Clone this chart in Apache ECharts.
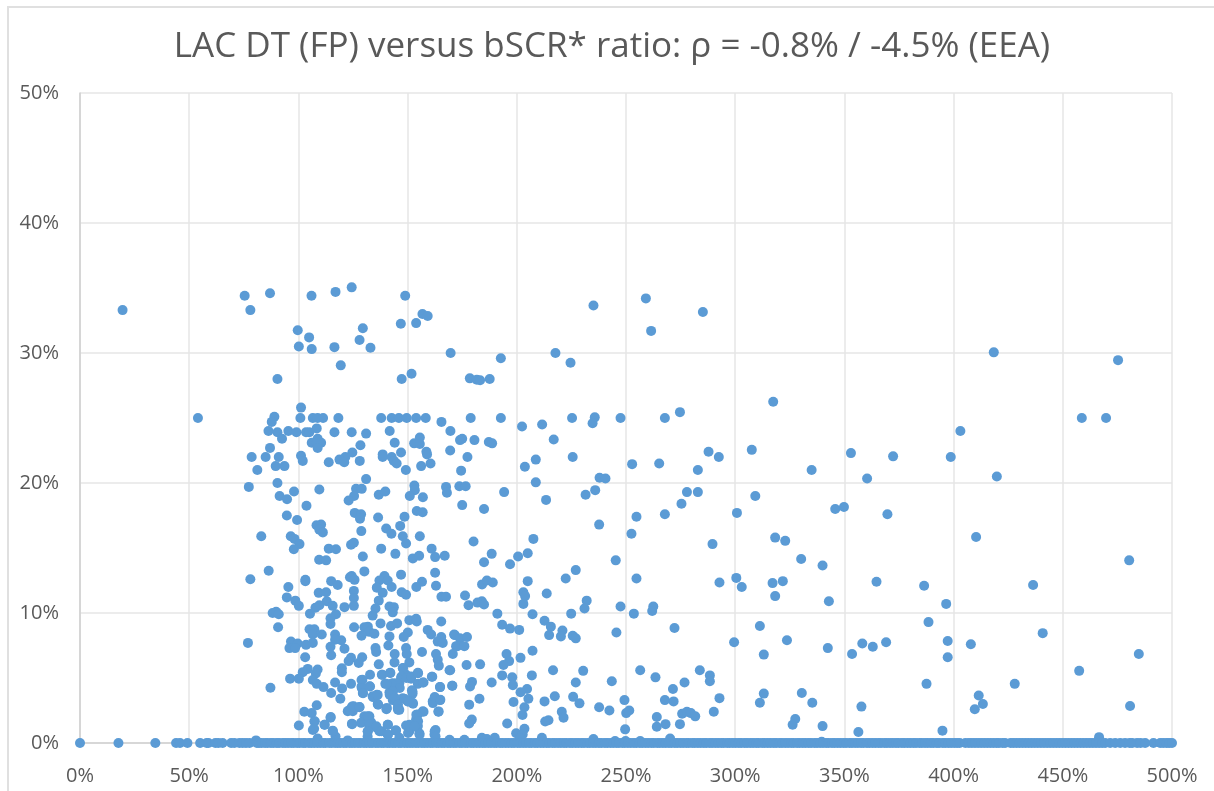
<!DOCTYPE html>
<html>
<head>
<meta charset="utf-8">
<title>LAC DT (FP) versus bSCR* ratio</title>
<script src="https://cdn.jsdelivr.net/npm/echarts@6/dist/echarts.min.js"></script>
<style>
html, body { margin: 0; padding: 0; background: #fff; overflow: hidden; }
#frame { position: absolute; left: 7px; top: 6px; width: 1300px; height: 900px; border: 2px solid #e0e0e0; }
#chart { position: absolute; left: 0; top: 0; width: 1214px; height: 791px; }
</style>
</head>
<body>
<div id="frame"></div>
<div id="chart"></div>
<script>
// all values in percent, [bSCR* ratio, LAC DT]
const xTicks = [0, 50, 100, 150, 200, 250, 300, 350, 400, 450, 500];
const yTicks = [0, 10, 20, 30, 40, 50];

const pointsTop = [
  [19.5,33.3],[75.4,34.4],[87,34.6],[78,33.3],[106,34.4],[117,34.7],[124.4,35.05],[148.9,34.4],[156.8,33],[159.2,32.85],
  [146.9,32.25],[153.9,32.3],[99.7,31.75],[104.9,31.2],[129.5,31.9],[128,31],[100.2,30.5],[106.1,30.3],[116.5,30.45],[133,30.4],
  [169.7,30],[119.4,29.05],[90.4,28],[151.8,28.4],[147.3,28],[192.7,29.6],[217.7,30],[224.6,29.25],[235.1,33.65],[259.1,34.2],
  [261.5,31.7],[285.2,33.15],[178.5,28.05],[181.7,27.95],[183.2,27.9],[187.6,28],[317.4,26.25],[418.4,30.05],[475.3,29.45]
];

const points20to25 = [
  [101.2,25.8],[54,25],[100.9,25],[89,25.1],[87.8,24.7],[106.6,25],[108.8,25],[111.3,25],[118.3,25],[137.9,25],
  [142.7,25],[146,25],[149.6,25],[153.9,25],[158.3,25],[165.5,24.7],[169.6,24],[86.3,24],[90.4,23.9],[95.4,24],
  [99.1,23.9],[103.5,23.9],[105,23.9],[108.4,24.2],[116.5,23.9],[124.4,23.9],[131,23.8],[141.8,24],[92.5,23.4],[144.1,23.1],
  [155.6,23.5],[153,23.05],[155.6,23],[108.8,23.4],[106.1,23.1],[108.4,23.1],[110.4,23.1],[108.8,22.7],[128.4,22.9],[174,23.3],
  [87,22.7],[169.5,22.5],[101.2,22.1],[102,21.7],[78.6,22],[85,22],[91,22],[124.7,22.35],[121.5,22],[118.8,21.8],
  [121,21.6],[113.9,21.6],[128.1,21.7],[138.6,22.2],[138.6,22],[147,22.35],[142.7,22],[143.7,21.7],[145,21.5],[158.6,22.4],
  [158.9,22.2],[160.5,21.5],[156.2,21.3],[149.2,21],[81.2,21],[89.6,21.3],[93.6,21.3],[174.5,20.95],[131,20.3],[90.4,20],
  [178.9,25],[192.7,25],[225.3,25],[235.7,25.05],[234.7,24.6],[247.5,25],[267.8,25],[274.7,25.45],[202.4,24.35],[211.6,24.5],
  [175,23.4],[180.6,23.3],[187.2,23.15],[188.7,23.05],[216.9,23.35],[177.4,22],[208.7,21.8],[203.7,21.25],[225.6,22],[252.8,21.45],
  [265.2,21.5],[287.8,22.4],[292.5,22],[307.6,22.55],[282.9,21],[335,21],[208.7,20.05],[237.9,20.4],[240.6,20.35],[458.7,25],
  [469.8,25],[403.1,24],[353,22.3],[372.3,22.05],[398.7,22],[360.4,20.35],[419.8,20.5]
];

const points15to20 = [
  [77.3,19.7],[153.1,19.8],[153.3,19.45],[167.6,19.7],[168,19.25],[151,19],[157,18.9],[98,19.35],[109.6,19.5],[91.4,19],
  [94.8,18.75],[103.7,18.25],[126.4,19.55],[129,19.55],[125.5,19],[123,18.65],[136.8,19.1],[139.8,19.35],[173.7,19.75],[176.6,19.75],
  [194.2,19.3],[213.4,18.7],[231.5,19.1],[235.9,19.45],[277.9,19.3],[282.9,19.3],[309.2,19],[275.4,18.4],[175,18.3],[185,18],
  [300.8,17.7],[267.8,17.6],[254.8,17.4],[345.8,18],[237.7,16.8],[94.7,17.5],[99.4,17.15],[108.3,16.75],[110.4,16.8],[109.6,16.4],
  [111.2,16.2],[125.8,17.7],[128.7,17.6],[128.2,17.25],[136.5,17.35],[140.2,16.5],[142.6,16.1],[146.6,16.7],[148.6,17.4],[154.2,17.85],
  [156.9,17.75],[147.8,15.9],[149.3,15.35],[155.6,15.9],[128.8,16.3],[83,15.9],[96.5,15.9],[98.2,15.7],[100.5,15.3],[124.1,15.25],
  [125.4,15.4],[252.5,16.1],[180.2,15.5],[207.6,15.7],[289.6,15.3],[318.3,15.8],[322.9,15.55],[349.8,18.15],[369.7,17.6],[410.3,15.85]
];

const points10to15 = [
  [97.9,14.9],[113.9,14.95],[117.2,14.9],[137.9,14.95],[129.5,14.35],[109.5,14.1],[112.7,14.05],[144.4,14.55],[152.4,14.2],[155.3,14.4],
  [161,14.95],[162.6,14.3],[167,14.4],[162.6,13.1],[86.4,13.25],[78,12.6],[130.2,13.2],[103.2,12.55],[103.2,12.45],[124.4,12.85],
  [123.6,12.75],[125.7,12.55],[115,12.45],[118,12.15],[139.4,12.85],[137.1,12.5],[140.9,12.5],[147,12.95],[156.6,12.4],[163,12.1],
  [154,12],[135.9,11.95],[142.7,12],[138.6,11.55],[125.4,11.7],[95.4,12],[109.3,11.55],[112.7,11.6],[147.3,11.6],[149.3,11.4],
  [94.7,11.2],[125.4,11.15],[136.8,10.95],[165.5,11.25],[167.6,11.25],[98.6,10.95],[100.2,10.55],[113,10.9],[115.7,10.55],[109.6,10.6],
  [107.8,10.4],[121.1,10.45],[125.4,10.55],[135.3,10.35],[141.7,10.5],[143.7,10.45],[143.2,10.05],[188.5,14.55],[185,13.9],[196.9,13.75],
  [200.6,14.35],[205,14.6],[245.3,14.05],[227,13.3],[222.4,12.65],[254.8,12.65],[205,12.45],[184.1,12.2],[186.3,12.5],[189,12.35],
  [292.8,12.35],[300.5,12.7],[303,12],[330.2,14.15],[340,13.65],[317.1,12.3],[321.8,12.45],[318.3,11.3],[342.9,10.9],[203,11.6],
  [203.8,11.3],[203,10.7],[213.7,11.5],[176.3,11.35],[177.9,10.6],[182,10.8],[184,10.9],[185,10.65],[232,10.95],[231,10.35],
  [247.5,10.5],[262.5,10.5],[262,10.15],[480.4,14.05],[364.7,12.4],[386.5,12.1],[436.4,12.15],[396.6,10.7]
];

const points5to10 = [
  [134,9.8],[88.2,10],[89.8,10.1],[91,9.9],[105.3,9.95],[117.2,9.9],[114.7,9.6],[114.7,9.15],[150.8,9.45],[153.9,9.55],
  [154.2,9.35],[165.4,9.35],[137.6,9.2],[90.7,8.9],[125.5,8.9],[130.2,8.9],[131.8,8.95],[142.4,9],[145.2,9.2],[105.1,8.75],
  [107.3,8.75],[159.2,8.7],[106.6,8.35],[110.7,8.35],[150.1,8.5],[132.5,8.55],[134.8,8.4],[128.9,8.25],[141.7,8.2],[160.8,8.35],
  [165.4,8.15],[148.2,8.15],[171.3,8.35],[116.8,8.35],[119.6,7.9],[116.8,7.95],[76.9,7.7],[96.6,7.8],[99.7,7.65],[103.5,7.55],
  [106.6,7.7],[163.8,7.8],[166.1,7.7],[141.2,7.5],[114.7,7.4],[121.1,7.25],[135.3,7.3],[95.9,7.3],[98.5,7.3],[149.3,7.3],
  [172.2,7.45],[135.6,7],[149.6,6.85],[156.6,7],[163,6.85],[170.7,6.85],[115,6.75],[144.1,6.85],[103.1,6.6],[129.2,6.6],
  [124.1,6.55],[123,6.3],[127.6,6.15],[144,6.2],[163.8,6.4],[136.8,6.05],[150.8,6.2],[164.3,5.95],[119.9,5.75],[119.9,5.45],
  [104.3,5.7],[102,5.45],[108.8,5.65],[108,5.35],[147.8,5.75],[169.2,5.6],[138.2,5.25],[142,5.4],[154.7,5.4],[132.8,5.25],
  [149.3,5.25],[147,5],[96.2,4.95],[100.2,4.95],[161.1,5.1],[151.6,4.95],
  [191.1,9.95],[207.2,9.9],[224.9,9.95],[253.6,9.95],[212.7,9.4],[215.6,8.95],[193.3,9.1],[196.9,8.8],[201.1,8.7],[220.9,8.65],
  [214.8,8.3],[220.2,8.2],[225.6,8.25],[227,8.05],[245.6,8.5],[272.2,8.85],[311.3,9],[299.5,7.75],[323.7,7.9],[342.4,7.3],
  [313.1,6.8],[171.6,8.3],[174,8.05],[177.2,8.15],[172.8,7.45],[176,7.45],[195.3,6.85],[207.2,7.1],[201.7,6.55],[196.5,6.3],
  [193.9,6],[177,6],[183.2,6.05],[169.5,5.6],[216.6,5.6],[230.4,5.55],[256.5,5.6],[193.3,5.2],[197.9,5.05],[206.9,5.2],
  [263.5,5.05],[283.8,5.6],[288.4,5.2],[388.5,9.3],[440.8,8.45],[397.3,7.85],[407.9,7.6],[358.2,7.65],[363,7.4],[369.1,7.75],
  [353.5,6.85],[397.3,6.6],[484.8,6.85],[457.5,5.55]
];

const pointsLow = [
  [106.6,4.85],[128.9,4.85],[116.8,4.65],[108.4,4.55],[124.1,4.55],[128.9,4.35],[139.8,4.55],[143.2,4.6],[157.3,4.65],[154.7,4.55],
  [146.2,4.6],[143.9,4.2],[170.4,4.4],[111.5,4.3],[120,4.2],[87.2,4.25],[132.8,4.35],[164.9,4.3],[152,4.05],[152.3,3.8],
  [115,3.85],[129.5,3.85],[141.7,3.9],[136.3,3.7],[134,3.6],[147.8,3.45],[119.2,3.4],[163,3.4],[164.8,3.3],[161.5,3.2],
  [152.3,3.1],[143.2,3.3],[150.1,3.2],[136.3,3],[108.4,2.9],[127.9,2.75],[124.6,2.8],[122.6,2.45],[124.9,2.45],[140.5,2.7],
  [145.5,2.7],[146.2,2.55],[102.7,2.4],[106.1,2.3],[164.1,2.4],[157.3,2.4],[130.2,2.05],[132.5,2.05],[154.7,2.2],[114.7,1.95],
  [107.3,1.65],[130.2,1.65],[133.3,1.6],[153.9,1.8],[100.2,1.35],[112,1.4],[124.6,1.45],[128.7,1.55],[140.9,1.4],[149.3,1.35],
  [154.7,1.3],[106.6,1],[115.7,0.95],[135.6,1.2],[144.7,0.95],[162.8,1],[131.7,0.9],[150.8,0.9],[137.1,0.9],[117,0.5],
  [131.7,0.5],[140.9,0.65],[155.4,0.75],[162.3,0.65],[108.8,0.35],[146.2,0.4],[169.2,0.25],[122.6,0.2],[80.6,0.2],
  [288.4,4.75],[179.5,4.7],[178.6,4.35],[198.2,4.45],[188.5,4.65],[170.5,4.4],[227,4.65],[243.5,4.75],[276.8,4.65],[271.5,4.15],
  [204.7,4.15],[201.7,3.9],[205.3,3.4],[217.4,3.6],[225.8,3.55],[182.9,3.4],[198.5,3.15],[212.7,3.2],[228.7,3.05],[249.3,3.3],
  [267.8,3.3],[271.8,3.2],[292.8,3.45],[313.1,3.8],[311.3,3.1],[330.5,3.85],[335.3,3.1],[178.2,2.95],[203.5,2.75],[237.7,2.75],
  [242.4,2.5],[251.5,2.5],[250.1,2.3],[220.6,2.4],[221.4,1.95],[202.6,2.15],[290.2,2.4],[275.7,2.25],[277.9,2.4],[279.7,2.3],
  [281.7,2.05],[264.1,2],[179.4,1.8],[178.2,1.5],[195.6,1.5],[214.5,1.75],[213,1.65],[268.1,1.45],[274.7,1.45],[264.1,1.25],
  [327.5,1.85],[326.3,1.4],[340,1.3],[203.5,1.1],[249.6,1.05],[199.7,0.75],[202.7,0.65],[201.5,0.35],[211.5,0.4],[235.1,0.3],
  [270.2,0.35],[184,0.4],[189.9,0.4],[176,0.25],[169.8,0.1],[186.3,0.3],[245,0.15],[249.8,0.15],[256.5,0.15],[339.6,0.1],
  [387.6,4.55],[428,4.55],[411.5,3.65],[413.4,3],[409.7,2.6],[480.8,2.85],[357.8,2.8],[394.9,0.95],[356.4,0.85],[466.6,0.45]
];

const pointsDense = [
  [147.9,5.77],[147.2,5.12],[149.4,5],[151.7,5.12],[144.9,4.6],[142.6,4.55],[140.3,4.55],[146.4,4.23],[143.3,3.97],[141.8,3.72],
  [144.1,3.47],[145.6,2.95],[145.6,2.56],[148.7,3.38],[152.2,3.98],[152.5,3.02],[150.2,3.2],[140.3,2.6],[136.5,2.95],[134.2,3.53],
  [136,3.72],[132.6,4.36],[129.3,4.87],[129,4.23],[129.6,3.83],[138.4,5.25],[142.1,5.38],[157,2.44],[154,2.18],[154.8,1.67],
  [150.9,1.4],[153.2,1.28],[150.2,0.77],[155.5,0.64],[131.8,2.05],[132.6,1.4],[131.8,0.9],[135.7,1.28],[138,0.9],[141,0.64],
  [144.6,0.98],[141,1.4],[123.5,2.56],[125.3,2.82],[128,2.77],[124.5,1.48],[115.8,0.9],[112,1.4],[114.8,2],[107.5,1.67],
  [107.2,1.1],[162.4,0.9],[162.8,0.5],[164.2,2.43],[161.6,3.07],[162.4,3.53],[165,3.32],[164.8,4.3],[161.3,5.1],[157,4.66],[154.8,5.37]
];

// bSCR* ratios of the companies sitting on the 0% line
const zeroLine = [
  0,17.6,34.5,44,45.8,49.2,55,58,58.8,62,63.4,65.3,69.2,70.7,73,74.5,76,77.6,81,82,
  83.2,84.7,85.9,87.4,88.6,90.1,91.2,92.8,94,95.3,96.7,97.9,99.4,100.6,102.1,103.2,104.8,106,107.3,108.7,
  110,111.4,112.5,114.1,115.3,116.8,118,119.2,120.7,121.9,123.4,124.6,125.9,127.3,128.5,130,131.2,132.6,133.8,135.3,
  136.5,137.9,139.1,140.6,141.8,143.2,144.4,145.9,147,148.5,149.8,151.1,152.4,153.8,155,156.5,157.7,159,160.4,161.6,
  163.1,164.3,165.7,166.9,168.4,169.6,171,172.2,173.7,174.9,176.3,177.5,179,180.2,181.6,182.9,184.3,185.5,186.9,188.2,
  189.6,190.8,192.3,193.5,194.9,196.2,197.6,198.8,200.3,201.5,202.9,204.2,205.6,206.8,208.3,209.5,210.9,212.2,213.6,214.8,
  216.3,217.5,218.9,220.2,221.6,222.8,224.3,225.5,226.9,228.2,229.6,230.8,232.3,233.5,234.9,236.2,237.6,238.8,240.3,241.5,
  242.9,244.2,245.6,246.8,248.3,249.5,250.9,252.2,253.6,254.8,256.3,257.5,258.9,260.2,261.6,262.8,264.3,265.5,266.9,268.2,
  269.6,270.8,272.3,273.5,274.9,276.2,277.6,278.8,280.3,281.5,282.9,284.2,285.6,286.8,288.3,289.5,290.9,292.2,293.6,294.8,
  296.3,297.5,298.9,300.2,301.6,302.8,304.3,305.5,306.9,308.2,309.6,310.8,312.3,313.5,314.9,316.2,317.6,318.8,320.3,321.5,
  322.9,324.2,325.6,326.8,328.3,329.5,330.9,332.2,333.6,334.8,336.3,337.5,338.9,340.2,341.6,342.8,344.3,345.5,346.9,348.2,
  349.6,350.8,352.3,353.5,354.9,356.2,357.6,358.8,360.3,361.5,362.9,364.2,365.6,366.8,368.3,369.5,370.9,372.2,373.6,374.8,
  376.3,377.5,378.9,380.2,381.6,382.8,384.3,385.5,386.9,388.2,389.6,390.8,392.3,393.4,395,396.2,397.6,398.9,400.3,401.6,
  402.8,405.4,407,408.4,409.8,411.2,412.6,414,415.4,416.8,418.2,419.6,420.8,422.4,423.6,426.1,427.4,428.8,430.2,431.6,
  433,434.4,435.8,437.2,438.6,440,441.4,442.8,444.2,445.6,447,448.4,449.8,451.2,452.6,454,455.4,456.8,458.2,459.6,
  461,462.4,463.8,465.2,466.6,468,469.4,471.7,474,476.3,478.5,480.6,481.8,484,485.6,487.7,491.5,494.6,496,497.5,498.7,500
];

const allPoints = [].concat(
  pointsTop, points20to25, points15to20, points10to15, points5to10, pointsLow, pointsDense,
  zeroLine.map(x => [x, 0])
);

const chart = echarts.init(document.getElementById('chart'));
const labelFont = { color: '#595959', fontSize: 20, fontFamily: '"Open Sans", sans-serif' };
const gridLine = { show: true, lineStyle: { color: '#e6e6e6', width: 1.5 } };

chart.setOption({
  animation: false,
  title: {
    text: 'LAC DT (FP) versus bSCR* ratio: ρ = -0.8% / -4.5% (EEA)',
    left: 607,
    top: 25,
    textAlign: 'center',
    textStyle: { color: '#595959', fontSize: 35, fontWeight: 'normal', fontFamily: '"Open Sans", sans-serif' }
  },
  grid: { left: 80, right: 42, top: 93, bottom: 48 },
  xAxis: {
    type: 'value',
    min: xTicks[0],
    max: xTicks[xTicks.length - 1],
    interval: xTicks[1] - xTicks[0],
    axisLine: { show: true, onZero: false, lineStyle: { color: '#cfcfcf', width: 1.5 } },
    axisTick: { show: false },
    axisLabel: { formatter: '{value}%', margin: 23, hideOverlap: false, ...labelFont },
    splitLine: gridLine
  },
  yAxis: {
    type: 'value',
    min: yTicks[0],
    max: yTicks[yTicks.length - 1],
    interval: yTicks[1] - yTicks[0],
    axisLine: { show: true, onZero: false, lineStyle: { color: '#cfcfcf', width: 1.5 } },
    axisTick: { show: false },
    axisLabel: { formatter: '{value}%', margin: 21, ...labelFont },
    splitLine: gridLine
  },
  series: [{
    type: 'scatter',
    data: allPoints,
    symbolSize: 10,
    clip: false,
    itemStyle: { color: '#5b9bd5', opacity: 1 }
  }]
});
</script>
</body>
</html>
